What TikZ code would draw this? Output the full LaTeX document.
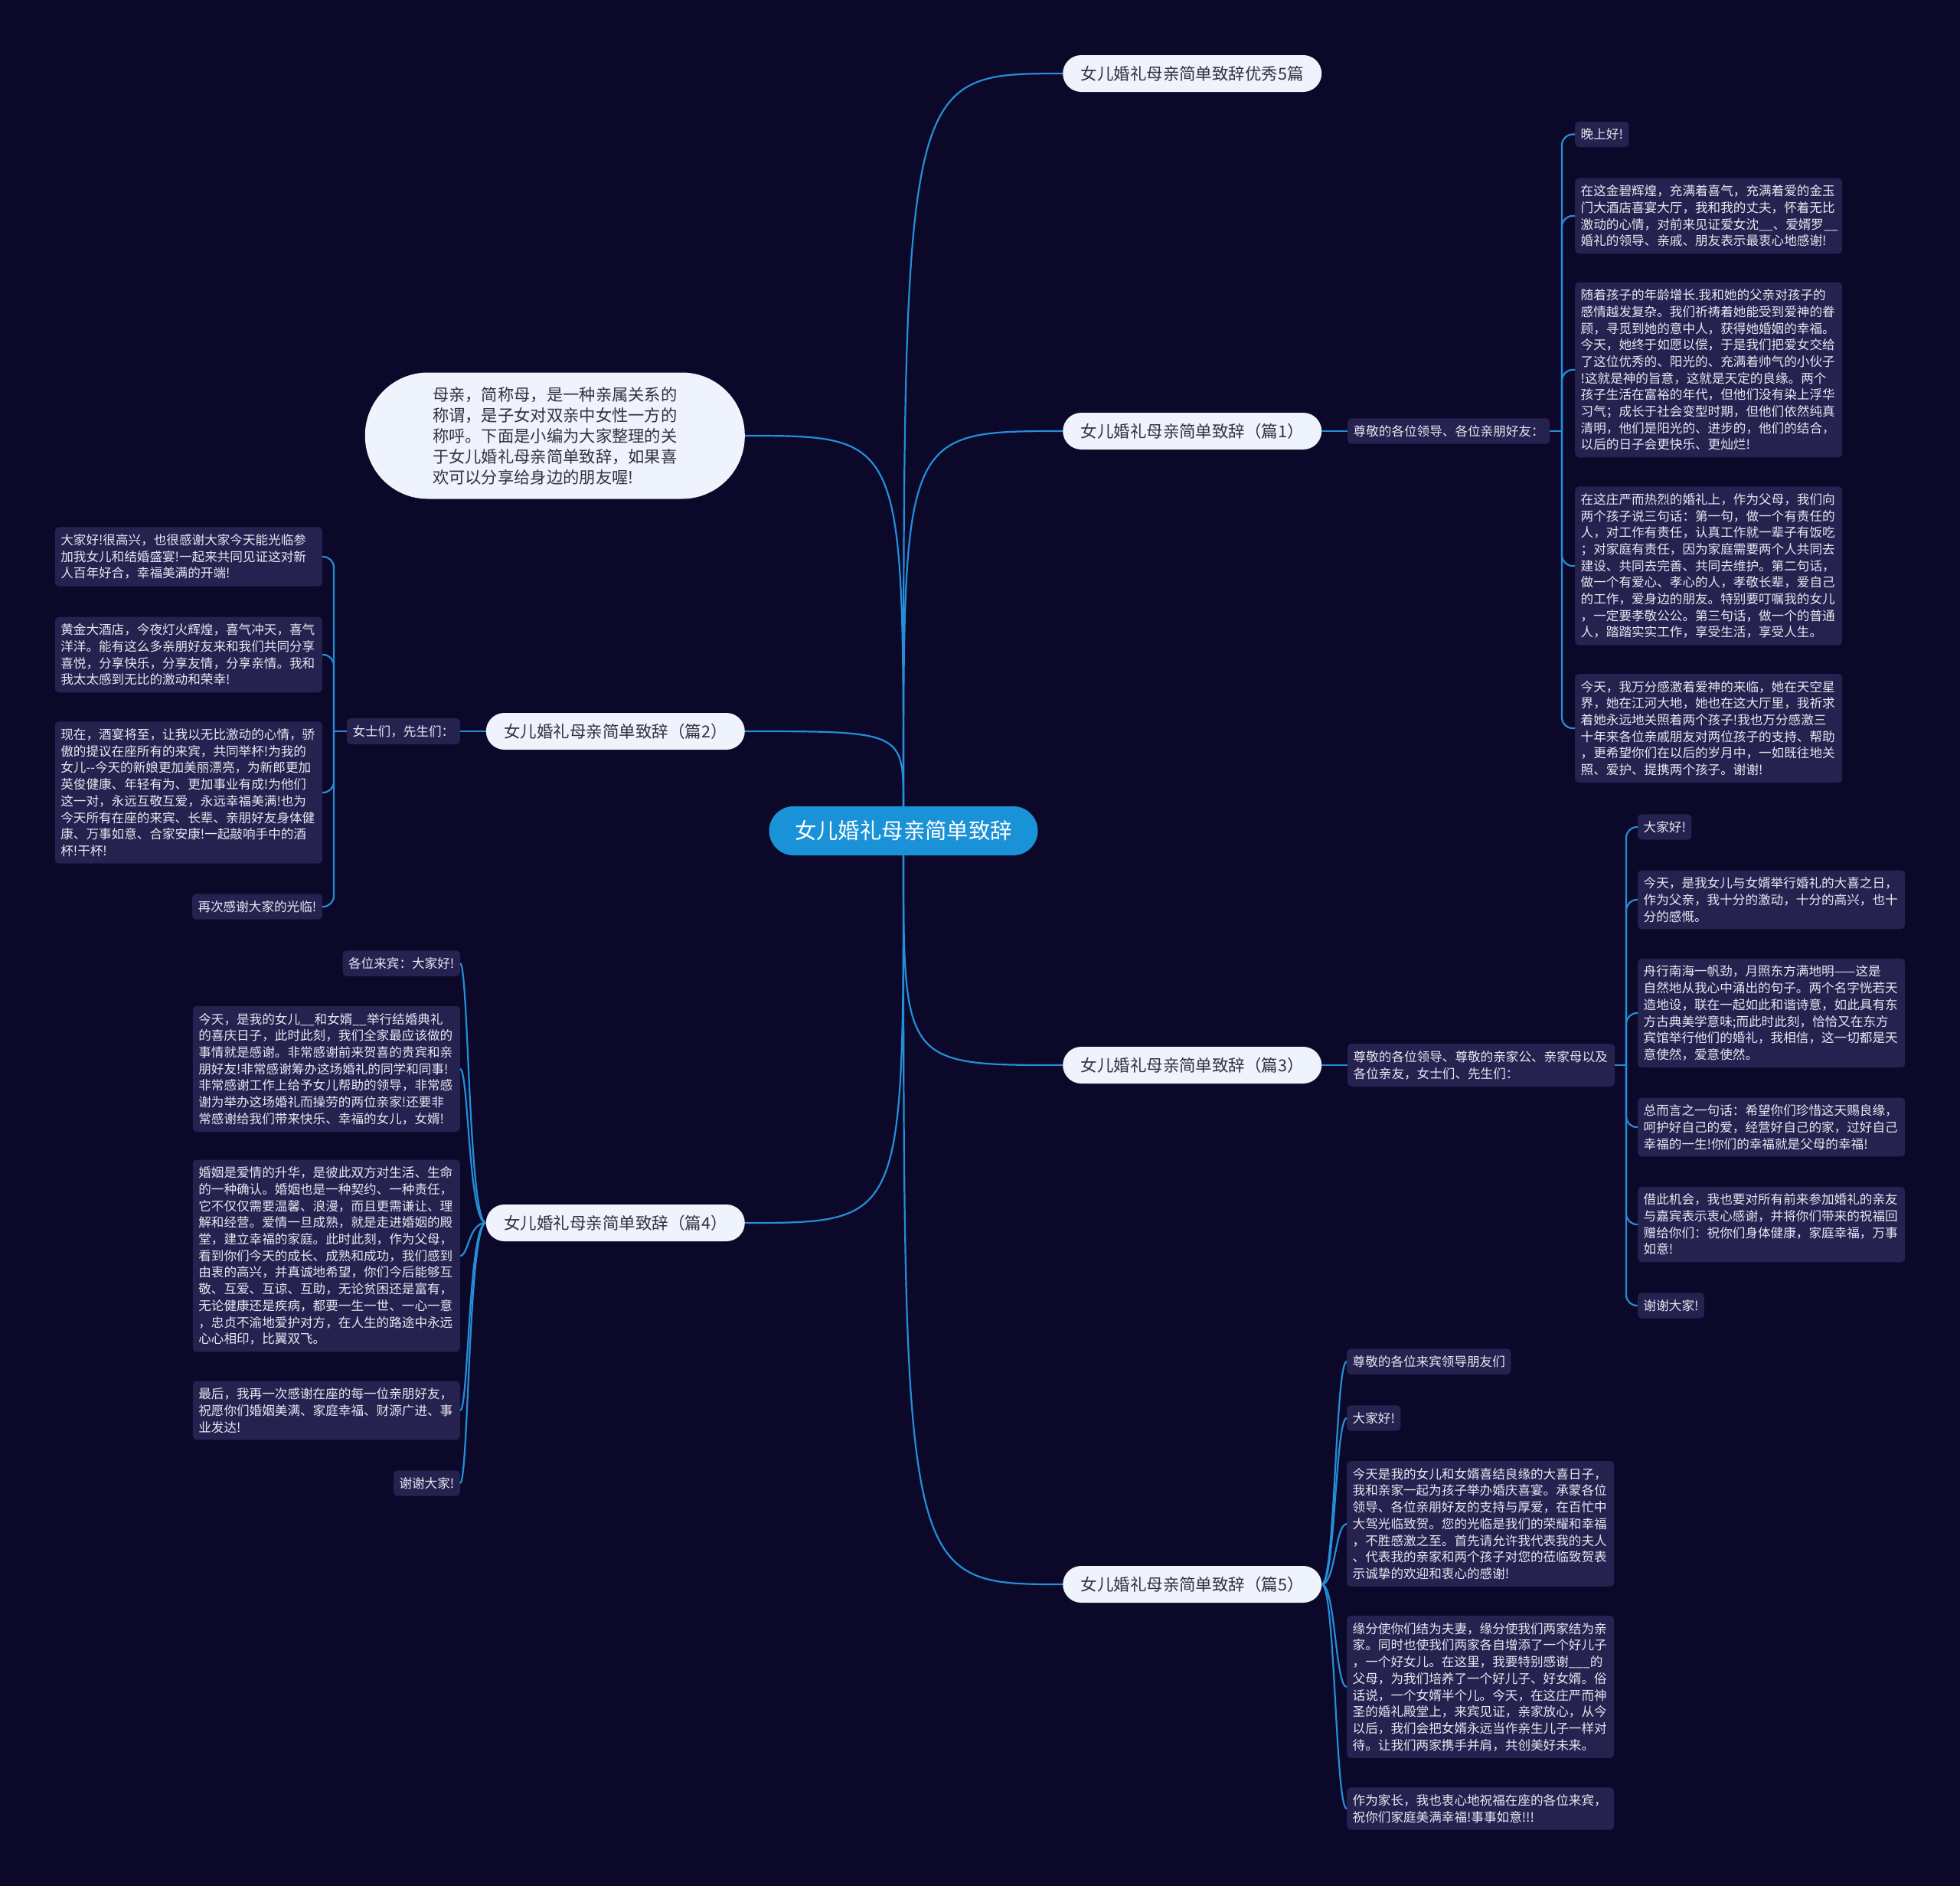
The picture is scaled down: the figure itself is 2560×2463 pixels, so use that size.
\documentclass[tikz,border=0pt]{standalone}
\usepackage{fontspec}
\setmainfont{Noto Sans CJK SC}
\usetikzlibrary{positioning}
\definecolor{navy}{RGB}{11,8,42}
\definecolor{leafbg}{RGB}{38,34,80}
\definecolor{leaftext}{RGB}{232,232,242}
\definecolor{linkblue}{RGB}{36,142,216}
\definecolor{pillbg}{RGB}{238,243,252}
\definecolor{pilltext}{RGB}{50,50,62}
\definecolor{rootblue}{RGB}{26,146,216}

\tikzset{
  link/.style={draw=linkblue, line width=2.2pt},
  leaf/.style={fill=leafbg, text=leaftext, rounded corners=5pt, inner xsep=7.5pt,
    inner ysep=9pt, align=left, font=\fontsize{16.6}{21.7}\selectfont},
  wide/.style={leaf, text width=334pt},
  branch/.style={fill=pillbg, text=pilltext, rounded corners=24pt, minimum height=48pt,
    minimum width=338pt, font=\fontsize{21.5}{25}\selectfont},
  root/.style={fill=rootblue, text=white, rounded corners=32pt, minimum height=64pt,
    minimum width=351pt, font=\fontsize{28.4}{32}\selectfont},
  intro/.style={fill=pillbg, text=pilltext, rounded corners=82pt, minimum height=165pt,
    minimum width=496pt, align=left, font=\fontsize{21.3}{27}\selectfont}
}

\begin{document}
\begin{tikzpicture}[x=1pt, y=-1pt]
  \useasboundingbox (0,0) rectangle (2560,2463);
  \fill[navy] (0,0) rectangle (2560,2463);

  \node[root] (ctr) at (1180,1085) {女儿婚礼母亲简单致辞};

  \node[intro, anchor=east] (info) at (973,569) {母亲，简称母，是一种亲属关系的\\称谓，是子女对双亲中女性一方的\\称呼。下面是小编为大家整理的关\\于女儿婚礼母亲简单致辞，如果喜\\欢可以分享给身边的朋友喔!};
  \node[branch, anchor=west] (p0) at (1388,96) {女儿婚礼母亲简单致辞优秀5篇};
  \node[branch, anchor=west] (p1) at (1388,563) {女儿婚礼母亲简单致辞（篇1）};
  \node[branch, anchor=east] (p2) at (973,955) {女儿婚礼母亲简单致辞（篇2）};
  \node[branch, anchor=west] (p3) at (1388,1391) {女儿婚礼母亲简单致辞（篇3）};
  \node[branch, anchor=east] (p4) at (973,1597) {女儿婚礼母亲简单致辞（篇4）};
  \node[branch, anchor=west] (p5) at (1388,2069) {女儿婚礼母亲简单致辞（篇5）};

  \draw[link] (ctr.north) .. controls (ctr.north |- info.east) .. (info.east);
  \draw[link] (ctr.north) .. controls (ctr.north |- p0.west) .. (p0.west);
  \draw[link] (ctr.north) .. controls (ctr.north |- p1.west) .. (p1.west);
  \draw[link] (ctr.north) .. controls (ctr.north |- p2.east) .. (p2.east);
  \draw[link] (ctr.south) .. controls (ctr.south |- p3.west) .. (p3.west);
  \draw[link] (ctr.south) .. controls (ctr.south |- p4.east) .. (p4.east);
  \draw[link] (ctr.south) .. controls (ctr.south |- p5.west) .. (p5.west);

  % 篇1
  \node[leaf, anchor=west] (s1) at (1760,563) {尊敬的各位领导、各位亲朋好友：};
  \node[leaf, anchor=west] (a1) at (2057,175.5) {晚上好!};
  \node[wide, anchor=west] (a2) at (2057,282) {在这金碧辉煌，充满着喜气，充满着爱的金玉\\门大酒店喜宴大厅，我和我的丈夫，怀着无比\\激动的心情，对前来见证爱女沈\_\_、爱婿罗\_\_\\婚礼的领导、亲戚、朋友表示最衷心地感谢!};
  \node[wide, anchor=west] (a3) at (2057,483) {随着孩子的年龄增长.我和她的父亲对孩子的\\感情越发复杂。我们祈祷着她能受到爱神的眷\\顾，寻觅到她的意中人，获得她婚姻的幸福。\\今天，她终于如愿以偿，于是我们把爱女交给\\了这位优秀的、阳光的、充满着帅气的小伙子\\!这就是神的旨意，这就是天定的良缘。两个\\孩子生活在富裕的年代，但他们没有染上浮华\\习气；成长于社会变型时期，但他们依然纯真\\清明，他们是阳光的、进步的，他们的结合，\\以后的日子会更快乐、更灿烂!};
  \node[wide, anchor=west] (a4) at (2057,739) {在这庄严而热烈的婚礼上，作为父母，我们向\\两个孩子说三句话：第一句，做一个有责任的\\人，对工作有责任，认真工作就一辈子有饭吃\\；对家庭有责任，因为家庭需要两个人共同去\\建设、共同去完善、共同去维护。第二句话，\\做一个有爱心、孝心的人，孝敬长辈，爱自己\\的工作，爱身边的朋友。特别要叮嘱我的女儿\\，一定要孝敬公公。第三句话，做一个的普通\\人，踏踏实实工作，享受生活，享受人生。};
  \node[wide, anchor=west] (a5) at (2057,951) {今天，我万分感激着爱神的来临，她在天空星\\界，她在江河大地，她也在这大厅里，我祈求\\着她永远地关照着两个孩子!我也万分感激三\\十年来各位亲戚朋友对两位孩子的支持、帮助\\，更希望你们在以后的岁月中，一如既往地关\\照、爱护、提携两个孩子。谢谢!};
  \coordinate (k1) at (2040,563);
  \draw[link] (p1.east) -- (s1.west);
  \draw[link] (s1.east) -- (k1);
  \foreach \n in {a1,a2,a3,a4,a5}
    \draw[link, rounded corners=14pt] (k1) |- (\n.west);

  % 篇3
  \node[wide, anchor=west] (s3) at (1760,1391) {尊敬的各位领导、尊敬的亲家公、亲家母以及\\各位亲友，女士们、先生们：};
  \node[leaf, anchor=west] (c1) at (2139,1080) {大家好!};
  \node[wide, anchor=west] (c2) at (2139,1175) {今天，是我女儿与女婿举行婚礼的大喜之日，\\作为父亲，我十分的激动，十分的高兴，也十\\分的感慨。};
  \node[wide, anchor=west] (c3) at (2139,1323) {舟行南海一帆劲，月照东方满地明——这是\\自然地从我心中涌出的句子。两个名字恍若天\\造地设，联在一起如此和谐诗意，如此具有东\\方古典美学意味;而此时此刻，恰恰又在东方\\宾馆举行他们的婚礼，我相信，这一切都是天\\意使然，爱意使然。};
  \node[wide, anchor=west] (c4) at (2139,1472) {总而言之一句话：希望你们珍惜这天赐良缘，\\呵护好自己的爱，经营好自己的家，过好自己\\幸福的一生!你们的幸福就是父母的幸福!};
  \node[wide, anchor=west] (c5) at (2139,1599) {借此机会，我也要对所有前来参加婚礼的亲友\\与嘉宾表示衷心感谢，并将你们带来的祝福回\\赠给你们：祝你们身体健康，家庭幸福，万事\\如意!};
  \node[leaf, anchor=west] (c6) at (2139,1705) {谢谢大家!};
  \coordinate (k3) at (2124,1391);
  \draw[link] (p3.east) -- (s3.west);
  \draw[link] (s3.east) -- (k3);
  \foreach \n in {c1,c2,c3,c4,c5,c6}
    \draw[link, rounded corners=14pt] (k3) |- (\n.west);

  % 篇5
  \node[leaf, anchor=west] (e1) at (1759,1778) {尊敬的各位来宾领导朋友们};
  \node[leaf, anchor=west] (e2) at (1759,1852) {大家好!};
  \node[wide, anchor=west] (e3) at (1759,1990) {今天是我的女儿和女婿喜结良缘的大喜日子，\\我和亲家一起为孩子举办婚庆喜宴。承蒙各位\\领导、各位亲朋好友的支持与厚爱，在百忙中\\大驾光临致贺。您的光临是我们的荣耀和幸福\\，不胜感激之至。首先请允许我代表我的夫人\\、代表我的亲家和两个孩子对您的莅临致贺表\\示诚挚的欢迎和衷心的感谢!};
  \node[wide, anchor=west] (e4) at (1759,2203) {缘分使你们结为夫妻，缘分使我们两家结为亲\\家。同时也使我们两家各自增添了一个好儿子\\，一个好女儿。在这里，我要特别感谢\_\_\_的\\父母，为我们培养了一个好儿子、好女婿。俗\\话说，一个女婿半个儿。今天，在这庄严而神\\圣的婚礼殿堂上，来宾见证，亲家放心，从今\\以后，我们会把女婿永远当作亲生儿子一样对\\待。让我们两家携手并肩，共创美好未来。};
  \node[wide, anchor=west] (e5) at (1759,2362) {作为家长，我也衷心地祝福在座的各位来宾，\\祝你们家庭美满幸福!事事如意!!!};
  \coordinate (k5) at (1744,2069);
  \foreach \n in {e1,e2,e3,e4,e5}
    \draw[link] (p5.east) .. controls (k5) and (k5 |- \n.west) .. (\n.west);

  % 篇2
  \node[leaf, anchor=east] (s2) at (601,955) {女士们，先生们：};
  \node[wide, anchor=east] (b1) at (421,727) {大家好!很高兴，也很感谢大家今天能光临参\\加我女儿和结婚盛宴!一起来共同见证这对新\\人百年好合，幸福美满的开端!};
  \node[wide, anchor=east] (b2) at (421,855) {黄金大酒店，今夜灯火辉煌，喜气冲天，喜气\\洋洋。能有这么多亲朋好友来和我们共同分享\\喜悦，分享快乐，分享友情，分享亲情。我和\\我太太感到无比的激动和荣幸!};
  \node[wide, anchor=east] (b3) at (421,1035) {现在，酒宴将至，让我以无比激动的心情，骄\\傲的提议在座所有的来宾，共同举杯!为我的\\女儿-{}-今天的新娘更加美丽漂亮，为新郎更加\\英俊健康、年轻有为、更加事业有成!为他们\\这一对，永远互敬互爱，永远幸福美满!也为\\今天所有在座的来宾、长辈、亲朋好友身体健\\康、万事如意、合家安康!一起敲响手中的酒\\杯!干杯!};
  \node[leaf, anchor=east] (b4) at (421,1184) {再次感谢大家的光临!};
  \coordinate (k2) at (436,955);
  \draw[link] (p2.west) -- (s2.east);
  \draw[link] (s2.west) -- (k2);
  \foreach \n in {b1,b2,b3,b4}
    \draw[link, rounded corners=14pt] (k2) |- (\n.east);

  % 篇4
  \node[leaf, anchor=east] (d1) at (601,1258) {各位来宾：大家好!};
  \node[wide, anchor=east] (d2) at (601,1396) {今天，是我的女儿\_\_和女婿\_\_举行结婚典礼\\的喜庆日子，此时此刻，我们全家最应该做的\\事情就是感谢。非常感谢前来贺喜的贵宾和亲\\朋好友!非常感谢筹办这场婚礼的同学和同事!\\非常感谢工作上给予女儿帮助的领导，非常感\\谢为举办这场婚礼而操劳的两位亲家!还要非\\常感谢给我们带来快乐、幸福的女儿，女婿!};
  \node[wide, anchor=east] (d3) at (601,1640) {婚姻是爱情的升华，是彼此双方对生活、生命\\的一种确认。婚姻也是一种契约、一种责任，\\它不仅仅需要温馨、浪漫，而且更需谦让、理\\解和经营。爱情一旦成熟，就是走进婚姻的殿\\堂，建立幸福的家庭。此时此刻，作为父母，\\看到你们今天的成长、成熟和成功，我们感到\\由衷的高兴，并真诚地希望，你们今后能够互\\敬、互爱、互谅、互助，无论贫困还是富有，\\无论健康还是疾病，都要一生一世、一心一意\\，忠贞不渝地爱护对方，在人生的路途中永远\\心心相印，比翼双飞。};
  \node[wide, anchor=east] (d4) at (601,1842) {最后，我再一次感谢在座的每一位亲朋好友，\\祝愿你们婚姻美满、家庭幸福、财源广进、事\\业发达!};
  \node[leaf, anchor=east] (d5) at (601,1937) {谢谢大家!};
  \coordinate (k4) at (612,1597);
  \foreach \n in {d1,d2,d3,d4,d5}
    \draw[link] (p4.west) .. controls (k4) and (k4 |- \n.east) .. (\n.east);
\end{tikzpicture}
\end{document}
